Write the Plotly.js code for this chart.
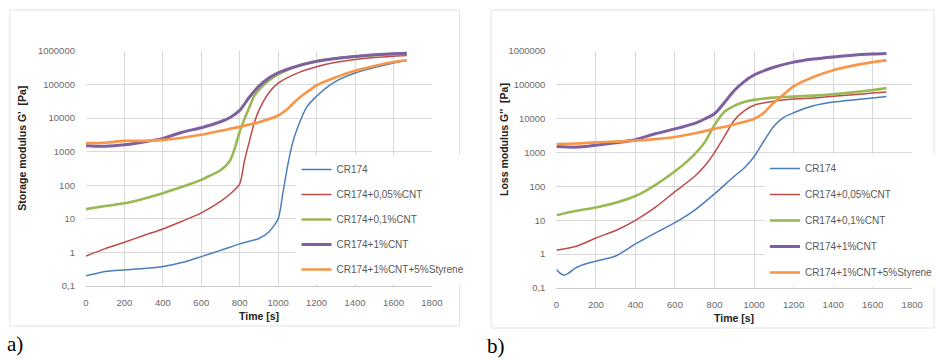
<!DOCTYPE html>
<html>
<head>
<meta charset="utf-8">
<script src="https://cdn.plot.ly/plotly-3.0.1.min.js"></script>
<style>html,body{margin:0;padding:0;background:#fff;}#chart{width:938px;height:358px;}</style>
</head>
<body>
<div id="chart"></div>
<script>
// ---------- Data (a) Storage modulus G' ----------
const seriesNames = ["CR174", "CR174+0,05%CNT", "CR174+0,1%CNT", "CR174+1%CNT", "CR174+1%CNT+5%Styrene"];

const tS_cr174 = [0,100,200,300,400,500,600,700,800,900,950,1000,1025,1050,1075,1100,1150,1200,1250,1300,1400,1500,1600,1670];
const gS_cr174 = [0.2,0.27,0.3,0.33,0.38,0.5,0.75,1.15,1.8,2.6,4,10,60,400,1800,5000,22000,45000,80000,125000,220000,320000,440000,530000];

const tS_005 = [0,100,200,300,400,500,600,700,750,800,825,850,875,900,950,1000,1100,1200,1300,1400,1500,1600,1670];
const gS_005 = [0.78,1.3,2,3.2,5,8.5,15,33,55,110,550,2000,7000,17000,55000,110000,220000,340000,460000,560000,640000,700000,730000];

const tS_01 = [0,100,200,300,400,500,600,650,700,750,775,800,825,850,875,900,950,1000,1100,1200,1300,1400,1500,1600,1670];
const gS_01 = [19.5,24,29,40,58,90,145,200,280,550,1300,4000,9500,21000,45000,70000,130000,200000,360000,500000,600000,680000,750000,800000,820000];

const tS_1 = [0,100,200,300,400,500,600,700,750,800,850,900,950,1000,1100,1200,1300,1400,1500,1600,1670];
const gS_1 = [1500,1450,1600,1950,2500,3800,5200,7800,10500,17000,42000,90000,155000,225000,355000,490000,600000,690000,770000,830000,860000];

const tS_sty = [0,100,200,300,400,500,600,700,800,900,1000,1050,1100,1150,1200,1300,1400,1500,1600,1670];
const gS_sty = [1800,1850,2100,2100,2250,2600,3200,4200,5500,7600,12000,19000,36000,60000,95000,165000,260000,360000,470000,530000];

// ---------- Data (b) Loss modulus G'' ----------
const tL_cr174 = [0,20,40,60,100,150,200,300,400,500,600,700,800,900,950,1000,1050,1100,1150,1200,1300,1400,1500,1600,1670];
const gL_cr174 = [0.35,0.27,0.24,0.27,0.4,0.52,0.62,0.88,2,4.2,8.5,20,60,200,350,750,2200,6000,11000,15000,24000,31000,36000,41000,45000];

const tL_005 = [0,100,200,300,400,500,600,700,750,800,850,900,950,1000,1100,1200,1300,1400,1500,1600,1670];
const gL_005 = [1.3,1.7,3,5,10,24,70,200,400,1000,3000,9000,17000,25000,33000,38000,41000,46000,51000,57000,62000];

const tL_01 = [0,100,200,300,400,500,600,650,700,750,800,850,900,950,1000,1100,1200,1300,1400,1500,1600,1670];
const gL_01 = [14,19,24,33,52,110,280,480,900,2000,6500,16000,24000,31000,36000,42000,45000,48000,53000,60000,70000,80000];

const tL_1 = [0,100,200,300,400,500,600,700,750,800,850,900,950,1000,1100,1200,1300,1400,1500,1600,1670];
const gL_1 = [1500,1450,1650,1950,2400,3600,5000,7300,9800,14000,30000,68000,125000,195000,330000,470000,580000,670000,750000,810000,840000];

const tL_sty = [0,100,200,300,400,500,600,700,800,900,1000,1050,1100,1150,1200,1300,1400,1500,1600,1670];
const gL_sty = [1800,1850,2000,2100,2250,2500,2900,3700,5000,6800,9800,15000,30000,52000,90000,170000,270000,370000,470000,530000];

// ---------- Axis ticks ----------
const xTicks = [0,200,400,600,800,1000,1200,1400,1600,1800];
const yTickVals = [0.1,1,10,100,1000,10000,100000,1000000];
const yTickText = ["0,1","1","10","100","1000","10000","100000","1000000"];

// ---------- Styling ----------
const colors = ["#4A7EBB", "#BE4B48", "#98B954", "#7D60A0", "#F79646"];
const widths = [1.5, 1.5, 2.6, 3, 2.6];
const W = 938, H = 358;
const px = x => x / W;
const py = y => 1 - y / H;

const leftData = [[tS_cr174,gS_cr174],[tS_005,gS_005],[tS_01,gS_01],[tS_1,gS_1],[tS_sty,gS_sty]];
const rightData = [[tL_cr174,gL_cr174],[tL_005,gL_005],[tL_01,gL_01],[tL_1,gL_1],[tL_sty,gL_sty]];

const traces = [];
leftData.forEach((d, i) => traces.push({
  x: d[0], y: d[1], name: seriesNames[i], type: "scatter", mode: "lines",
  line: {color: colors[i], width: widths[i], shape: "spline", smoothing: 0.7},
  xaxis: "x", yaxis: "y", legend: "legend", legendgroup: "a" + i
}));
rightData.forEach((d, i) => traces.push({
  x: d[0], y: d[1], name: seriesNames[i], type: "scatter", mode: "lines",
  line: {color: colors[i], width: widths[i], shape: "spline", smoothing: 0.7},
  xaxis: "x2", yaxis: "y2", legend: "legend2", legendgroup: "b" + i
}));

const tickFont = {family: "Liberation Sans, Arial, sans-serif", size: 9.5, color: "#6a6a6a"};
const gridColor = "#d9d9d9";

function xAxis(domain, anchor) {
  return {domain: domain, anchor: anchor, range: [0, 1800], tickvals: xTicks, showgrid: true,
    gridcolor: gridColor, gridwidth: 1, zeroline: false, showline: true, linecolor: "#c8c8c8",
    ticks: "", tickfont: tickFont, ticklabelstandoff: 8, fixedrange: true};
}
function yAxis(domain, anchor) {
  return {domain: domain, anchor: anchor, type: "log", range: [-1, 6], tickvals: yTickVals,
    ticktext: yTickText, showgrid: true, gridcolor: gridColor, gridwidth: 1, zeroline: false,
    showline: false, ticks: "", tickfont: tickFont, ticklabelstandoff: 10, fixedrange: true};
}

const legendFont = {family: "Liberation Sans, Arial, sans-serif", size: 10, color: "#595959"};
const titleFont = {family: "Liberation Sans, Arial, sans-serif", size: 10.5, color: "#222"};
const nb = "\u00a0";

const layout = {
  width: W, height: H,
  margin: {l: 0, r: 0, t: 0, b: 0},
  paper_bgcolor: "#fff", plot_bgcolor: "#fff",
  showlegend: true,
  xaxis: xAxis([px(87), px(437)], "y"),
  yaxis: yAxis([py(286), py(51)], "x"),
  xaxis2: xAxis([px(563), px(923)], "y2"),
  yaxis2: yAxis([py(288), py(51)], "x2"),
  legend: {x: px(300), y: py(155), xanchor: "left", yanchor: "top", bgcolor: "#fff",
    font: legendFont, traceorder: "grouped", tracegroupgap: 6, borderwidth: 0},
  legend2: {x: px(774), y: py(154), xanchor: "left", yanchor: "top", bgcolor: "#fff",
    font: legendFont, traceorder: "grouped", tracegroupgap: 7, borderwidth: 0},
  shapes: [
    {type: "rect", xref: "paper", yref: "paper", x0: px(10), x1: px(465), y0: py(326), y1: py(10),
      line: {color: "#e2e2e2", width: 1}, layer: "below"},
    {type: "rect", xref: "paper", yref: "paper", x0: px(497), x1: px(945), y0: py(328), y1: py(10),
      line: {color: "#e2e2e2", width: 1}, layer: "below"}
  ],
  annotations: [
    {text: "<b>Storage modulus G'" + nb + nb + "[Pa]</b>", xref: "paper", yref: "paper",
      x: px(22), y: py(148), textangle: -90, showarrow: false, font: titleFont,
      xanchor: "center", yanchor: "middle"},
    {text: "<b>Loss modulus G''" + nb + nb + "[Pa]</b>", xref: "paper", yref: "paper",
      x: px(510), y: py(140), textangle: -90, showarrow: false, font: titleFont,
      xanchor: "center", yanchor: "middle"},
    {text: "<b>Time [s]</b>", xref: "paper", yref: "paper", x: px(262), y: py(316),
      showarrow: false, font: titleFont, xanchor: "center", yanchor: "middle"},
    {text: "<b>Time [s]</b>", xref: "paper", yref: "paper", x: px(743), y: py(318),
      showarrow: false, font: titleFont, xanchor: "center", yanchor: "middle"},
    {text: "a)", xref: "paper", yref: "paper", x: px(5), y: py(344), showarrow: false,
      font: {family: "Liberation Serif, Times New Roman, serif", size: 21, color: "#000"},
      xanchor: "left", yanchor: "middle"},
    {text: "b)", xref: "paper", yref: "paper", x: px(491), y: py(346), showarrow: false,
      font: {family: "Liberation Serif, Times New Roman, serif", size: 21, color: "#000"},
      xanchor: "left", yanchor: "middle"}
  ]
};

Plotly.newPlot("chart", traces, layout, {displayModeBar: false, staticPlot: true});
</script>
</body>
</html>
